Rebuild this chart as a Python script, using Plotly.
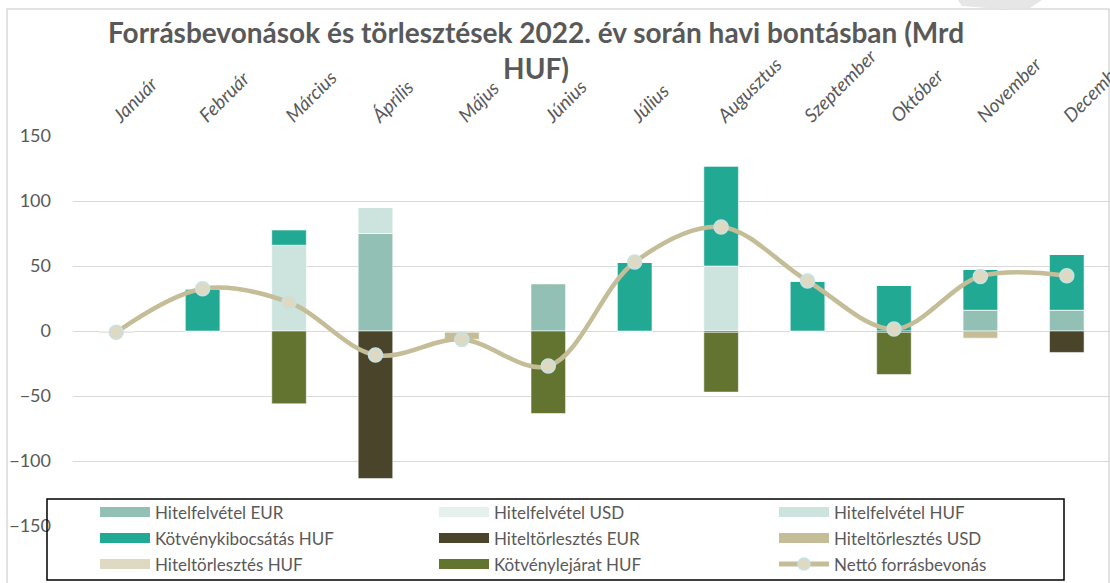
import plotly.graph_objects as go

# ---------------- data ----------------
months = ["Január", "Február", "Március", "Április", "Május", "Június",
          "Július", "Augusztus", "Szeptember", "Október", "November", "December"]

hitelfelvetel_eur = [0, 0, 0, 75, 0, 36.5, 0, 0, 0, 0, 16, 16]
hitelfelvetel_usd = [0, 0, 0, 0, 0, 0, 0, 0, 0, 0, 0, 0]
hitelfelvetel_huf = [0, 0, 66, 20, 0, 0, 0, 50, 0, 0, 0, 0]
kotvenykibocsatas_huf = [0, 32.5, 12, 0, 0, 0, 53, 77, 38.5, 35, 31.5, 43]
hiteltorlesztes_eur = [-1, 0, 0, -113.5, -1, 0, 0, -1, 0, -1, 0, -16.5]
hiteltorlesztes_usd = [0, 0, 0, 0, -5.5, 0, 0, 0, 0, 0, -5.5, 0]
hiteltorlesztes_huf = [0, 0, 0, 0, 0, 0, 0, 0, 0, 0, 0, 0]
kotvenylejarat_huf = [0, 0, -56, 0, 0, -63.5, 0, -46, 0, -32.5, 0, 0]
netto_forrasbevonas = [-1, 32.5, 22, -18.5, -6.5, -27, 53, 80, 38.5, 1.5, 42, 42.5]

series_names = ["Hitelfelvétel EUR", "Hitelfelvétel USD", "Hitelfelvétel HUF",
                "Kötvénykibocsátás HUF", "Hiteltörlesztés EUR", "Hiteltörlesztés USD",
                "Hiteltörlesztés HUF", "Kötvénylejárat HUF"]
series_values = [hitelfelvetel_eur, hitelfelvetel_usd, hitelfelvetel_huf,
                 kotvenykibocsatas_huf, hiteltorlesztes_eur, hiteltorlesztes_usd,
                 hiteltorlesztes_huf, kotvenylejarat_huf]
series_colors = ["#93c0b4", "#e6f0ed", "#cde3dd", "#21a994",
                 "#4a442a", "#c4bd97", "#ddd9c3", "#627430"]
line_name = "Nettó forrásbevonás"
line_color = "#c4bd97"
marker_fill = "#ddd9c3"
marker_edge = "#c5e3e6"

title_text = "Forrásbevonások és törlesztések 2022. év során havi bontásban (Mrd<br>HUF)"
ytick_vals = [-150, -100, -50, 0, 50, 100, 150]

# ---------------- geometry ----------------
W, H = 1110, 583
L, R, T, B = 73, 0, 136, 57
PW, PH = W - L - R, H - T - B
FONT = "Lato"
GREY = "#595959"


def px_x(px):
    return (px - L) / PW


def px_y(py):
    return (H - B - py) / PH


fig = go.Figure()
for name, vals, col in zip(series_names, series_values, series_colors):
    fig.add_trace(go.Bar(x=months, y=vals, name=name, showlegend=False,
                         marker=dict(color=col, line=dict(color="rgba(255,255,255,0.55)", width=1))))

fig.add_trace(go.Scatter(x=months, y=netto_forrasbevonas, name=line_name, mode="lines+markers",
                         showlegend=False,
                         line=dict(color=line_color, width=4.5, shape="spline", smoothing=1),
                         marker=dict(size=14, color=marker_fill, line=dict(color=marker_edge, width=1.5))))

shapes = []
annotations = []

# chart-area border
shapes.append(dict(type="rect", xref="paper", yref="paper",
                   x0=px_x(7), x1=px_x(1109), y0=px_y(700), y1=px_y(9),
                   line=dict(color="#d9d9d9", width=1.5), fillcolor="rgba(0,0,0,0)", layer="below"))

# faint background sliver at the top right
wm = [(958, 0), (962, 6), (1000, 9), (1030, 8), (1042, 0)]
wm_path = "M " + " L ".join(f"{px_x(a):.5f},{px_y(b):.5f}" for a, b in wm) + " Z"
shapes.append(dict(type="path", xref="paper", yref="paper", path=wm_path,
                   line=dict(width=0), fillcolor="#e6e6e6", layer="below"))

# legend (manual, three columns)
shapes.append(dict(type="rect", xref="paper", yref="paper",
                   x0=px_x(47), x1=px_x(1064), y0=px_y(580), y1=px_y(499),
                   line=dict(color="black", width=1.5), fillcolor="rgba(0,0,0,0)"))
col_x = [100, 439, 779]
row_y = [512, 538, 564]
legend_items = list(zip(series_names, series_colors)) + [(line_name, None)]
for i, (name, col) in enumerate(legend_items):
    cx = col_x[i % 3]
    cy = row_y[i // 3]
    if col is not None:
        shapes.append(dict(type="rect", xref="paper", yref="paper",
                           x0=px_x(cx), x1=px_x(cx + 50), y0=px_y(cy + 5), y1=px_y(cy - 5),
                           line=dict(width=0), fillcolor=col))
    else:
        shapes.append(dict(type="line", xref="paper", yref="paper",
                           x0=px_x(cx), x1=px_x(cx + 50), y0=px_y(cy), y1=px_y(cy),
                           line=dict(color=line_color, width=5)))
        shapes.append(dict(type="circle", xref="paper", yref="paper",
                           x0=px_x(cx + 19), x1=px_x(cx + 31), y0=px_y(cy + 6), y1=px_y(cy - 6),
                           line=dict(color=marker_edge, width=1.5), fillcolor=marker_fill))
    annotations.append(dict(xref="paper", yref="paper", x=px_x(cx + 53), y=px_y(cy),
                            xanchor="left", yanchor="middle", showarrow=False,
                            text=name, font=dict(family=FONT, size=17, color=GREY)))

# title
annotations.append(dict(xref="paper", yref="paper", x=px_x(536), y=px_y(13),
                        xanchor="center", yanchor="top", showarrow=False, align="center",
                        text=title_text,
                        font=dict(family=FONT, size=28, color=GREY, weight="bold")))

fig.update_layout(
    width=W, height=H,
    margin=dict(l=L, r=R, t=T, b=B, pad=0, autoexpand=False),
    paper_bgcolor="white", plot_bgcolor="white",
    barmode="relative", bargap=0.6,
    font=dict(family=FONT, color=GREY),
    showlegend=False,
    xaxis=dict(type="category", range=[-0.5, 11.5], side="top", tickangle=-45,
               showgrid=False, showline=False, zeroline=False, ticks="", automargin=False,
               tickfont=dict(family=FONT, size=19, color=GREY, style="italic"),
               ticklabelstandoff=5, ticklabelshift=-2),
    yaxis=dict(range=[-150, 150], tickvals=ytick_vals, showgrid=True, automargin=False,
               gridcolor="#d9d9d9", gridwidth=1.3, zeroline=True,
               zerolinecolor="#d9d9d9", zerolinewidth=1.3, showline=False, ticks="",
               tickfont=dict(family=FONT, size=18, color=GREY), ticklabelstandoff=21),
    shapes=shapes,
    annotations=annotations,
)

fig.write_html("out.html", config={"displayModeBar": False},
               post_script="document.body.style.margin='0';document.body.style.overflow='hidden';")
